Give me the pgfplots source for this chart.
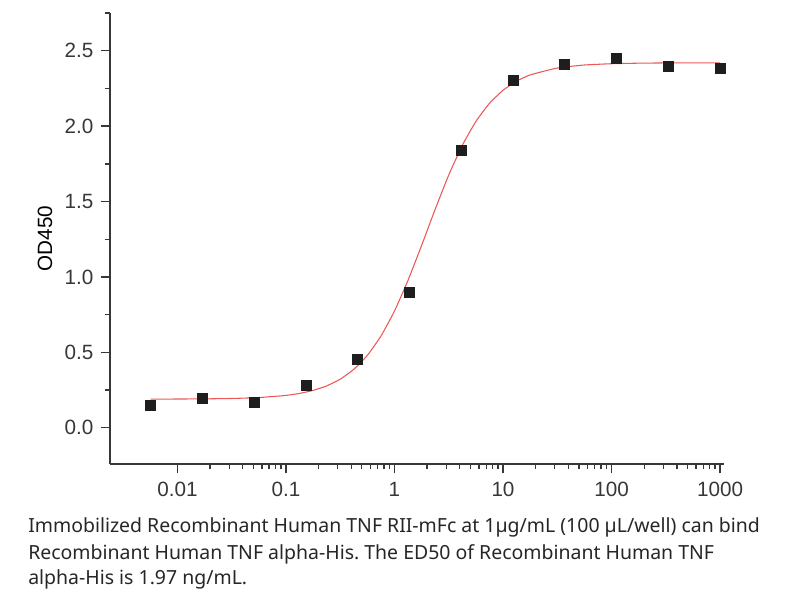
\documentclass[border=0pt]{standalone}
\usepackage{pgfplots}
\pgfplotsset{compat=1.18}
\usepackage{fontspec}
\setmainfont{Liberation Sans}
\newfontfamily\capfont{Noto Sans}
\definecolor{axgray}{RGB}{55,55,55}
\definecolor{fitred}{RGB}{236,88,88}
\definecolor{mk}{RGB}{30,30,30}
\frenchspacing
\begin{document}
\begin{tikzpicture}
\useasboundingbox (-82.5pt,-102pt) rectangle (520.5pt,348pt);
\begin{axis}[
  scale only axis, width=460.5pt, height=338.25pt,
  xmode=log, xmin=0.00239, xmax=1088,
  ymin=-0.24, ymax=2.75,
  axis x line*=bottom, axis y line*=left,
  axis line style={axgray, line width=1.1pt},
  every tick/.style={axgray, line width=1pt},
  tick align=outside,
  major tick length=7pt, minor tick length=4pt,
  xtick={0.01,0.1,1,10,100,1000},
  xticklabels={0.01,0.1,1,10,100,1000},
  ytick={0,0.5,1,1.5,2,2.5},
  minor ytick={-0.25,0.25,0.75,1.25,1.75,2.25,2.75},
  /pgf/number format/fixed,
  /pgf/number format/fixed zerofill,
  /pgf/number format/precision=1,
  /pgf/number format/assume math mode=true,
  ticklabel style={font=\fontsize{15.5}{18}\selectfont, text=axgray},
  xticklabel style={yshift=-3pt},
  yticklabel style={xshift=-2pt},
  ylabel={OD450},
  every axis y label/.style={at={(axis description cs:-0.1059,0.5)}, rotate=90, anchor=center, font=\fontsize{15.5}{18}\selectfont, text=black},
  clip=false,
]
\addplot[fitred, line width=0.8pt, smooth, tension=0.3] coordinates {
(0.00565,0.1903) (0.01,0.1908) (0.017783,0.1919) (0.031623,0.1944) (0.056234,0.2005)
(0.1,0.2147) (0.13335,0.2279) (0.177828,0.2478) (0.237137,0.2778) (0.316228,0.3224)
(0.421697,0.3875) (0.562341,0.4802) (0.749894,0.6077) (1,0.7740) (1.333521,0.9781)
(1.778279,1.2090) (2.371374,1.4486) (3.162278,1.6756) (4.216965,1.8725) (5.623413,2.0309)
(7.498942,2.1508) (10,2.2376) (13.335214,2.2980) (17.782794,2.3393) (31.622777,2.3852)
(56.234133,2.4052) (100,2.4137) (177.8279,2.4173) (316.2278,2.4189) (562.3413,2.4195) (1000,2.4198)
};
\addplot[only marks, mark=square*, mark size=3.75pt, mark options={draw=mk, fill=mk}] coordinates {
(0.00565,0.148) (0.01694,0.196) (0.05081,0.170) (0.1524,0.280) (0.4572,0.454) (1.372,0.900)
(4.115,1.843) (12.35,2.306) (37.04,2.412) (111.1,2.452) (333.3,2.399) (1000,2.383)
};
\end{axis}
\begin{scope}[every node/.style={anchor=base west, inner sep=0pt, font=\capfont\fontsize{14.6}{17}\selectfont, text=black!85}]
\node at (-61.5pt,-51.75pt) {Immobilized Recombinant Human TNF RII-mFc at 1µg/mL (100 µL/well) can bind};
\node at (-61.5pt,-71.25pt) {Recombinant Human TNF alpha-His. The ED50 of Recombinant Human TNF};
\node at (-61.5pt,-90pt) {alpha-His is 1.97 ng/mL.};
\end{scope}
\end{tikzpicture}
\end{document}
